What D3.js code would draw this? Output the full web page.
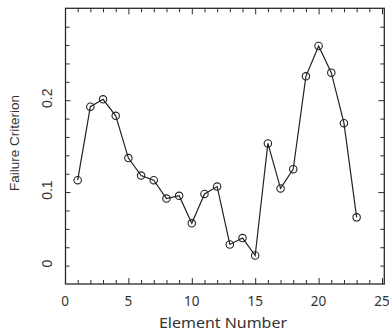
<!DOCTYPE html>
<html>
<head>
<meta charset="utf-8">
<script src="https://cdn.jsdelivr.net/npm/d3@7"></script>
<style>
  html, body { margin: 0; padding: 0; background: #fff; }
  svg { display: block; }
</style>
</head>
<body>
<svg id="chart" width="389" height="334"></svg>
<script>
// ---- data ----
const elements = [1,2,3,4,5,6,7,8,9,10,11,12,13,14,15,16,17,18,19,20,21,22,23];
const failure = [0.113,0.193,0.201,0.183,0.137,0.118,0.113,0.093,0.096,0.066,0.098,0.106,
                 0.043,0.050,0.031,0.153,0.104,0.125,0.226,0.259,0.230,0.175,0.0725];
const xTickValues = [0,5,10,15,20,25];
const xTickLabels = ["0","5","10","15","20","25"];
const yTickValues = [0.02,0.1,0.2];
const yTickLabels = ["0","0.1","0.2"];
const xTitle = "Element Number";
const yTitle = "Failure Criterion";

const svg = d3.select("#chart");
const pLeft = 65.5, pRight = 384.3, pTop = 8.3, pBottom = 284;

const x = d3.scaleLinear().domain([0, 25]).range([65, 382]);
const y = d3.scaleLinear().domain([0, 0.3]).range([pBottom, pTop]);

const ink = "#2a2a2a";

// minor/major ticks on four sides
const xMinor = d3.range(1, 26).filter(d => d % 5 !== 0);
const xMajor = xTickValues.filter(d => d > 0 && d < 25.1);
const yMinor = d3.range(1, 15).map(i => +(i * 0.02).toFixed(2)).filter(d => Math.abs(d - 0.1) > 1e-9 && Math.abs(d - 0.2) > 1e-9);
const yMajor = [0.1, 0.2];

function tickAxis(axisFn, scale, vals, size, transform) {
  const g = svg.append("g").attr("transform", transform)
    .call(axisFn(scale).tickValues(vals).tickSize(size).tickFormat(""));
  g.select(".domain").remove();
  g.selectAll("line").attr("stroke", ink).attr("stroke-width", 1);
  return g;
}
tickAxis(d3.axisBottom, x, xMinor, -4, `translate(0,${pBottom})`);
tickAxis(d3.axisBottom, x, xMajor, -6, `translate(0,${pBottom})`);
tickAxis(d3.axisTop, x, xMinor, -4, `translate(0,${pTop})`);
tickAxis(d3.axisTop, x, xMajor, -6, `translate(0,${pTop})`);
tickAxis(d3.axisLeft, y, yMinor, -4, `translate(${pLeft},0)`);
tickAxis(d3.axisLeft, y, yMajor, -5, `translate(${pLeft},0)`);
tickAxis(d3.axisRight, y, yMinor, -4, `translate(${pRight},0)`);
tickAxis(d3.axisRight, y, yMajor, -6, `translate(${pRight},0)`);

// frame
svg.append("rect")
  .attr("x", pLeft).attr("y", pTop)
  .attr("width", pRight - pLeft).attr("height", pBottom - pTop)
  .attr("fill", "none").attr("stroke", ink).attr("stroke-width", 1.3);

// x tick labels
svg.append("g").selectAll("text").data(xTickValues).join("text")
  .attr("x", d => x(d)).attr("y", 306)
  .attr("text-anchor", "middle")
  .attr("font-family", "'Noto Sans', 'DejaVu Sans', sans-serif")
  .attr("font-size", 13.5)
  .attr("fill", "#333")
  .text((d, i) => xTickLabels[i]);

// y tick labels (rotated)
svg.append("g").selectAll("text").data(yTickValues).join("text")
  .attr("transform", d => `translate(52,${y(d) - 2}) rotate(-90)`)
  .attr("text-anchor", "middle")
  .attr("font-family", "'Liberation Sans Narrow', 'Liberation Sans', Arial, sans-serif")
  .attr("font-size", 14)
  .attr("fill", "#333")
  .text((d, i) => yTickLabels[i]);

// axis titles
svg.append("text")
  .attr("x", 223).attr("y", 327.5)
  .attr("text-anchor", "middle")
  .attr("font-family", "'Noto Sans', 'DejaVu Sans', sans-serif")
  .attr("font-size", 14)
  .attr("textLength", 128).attr("lengthAdjust", "spacingAndGlyphs")
  .attr("fill", "#333")
  .text(xTitle);

svg.append("text")
  .attr("transform", "translate(19,143) rotate(-90)")
  .attr("text-anchor", "middle")
  .attr("font-family", "'Liberation Sans', Arial, sans-serif")
  .attr("font-size", 13.5)
  .attr("fill", "#333")
  .text(yTitle);

// line
const line = d3.line().x((d, i) => x(elements[i])).y(d => y(d));
svg.append("path")
  .datum(failure)
  .attr("d", line)
  .attr("fill", "none")
  .attr("stroke", "#222")
  .attr("stroke-width", 1.2);

// markers
svg.append("g").selectAll("circle").data(failure).join("circle")
  .attr("cx", (d, i) => x(elements[i]))
  .attr("cy", d => y(d))
  .attr("r", 3.7)
  .attr("fill", "none")
  .attr("stroke", "#222")
  .attr("stroke-width", 1.1);
</script>
</body>
</html>
